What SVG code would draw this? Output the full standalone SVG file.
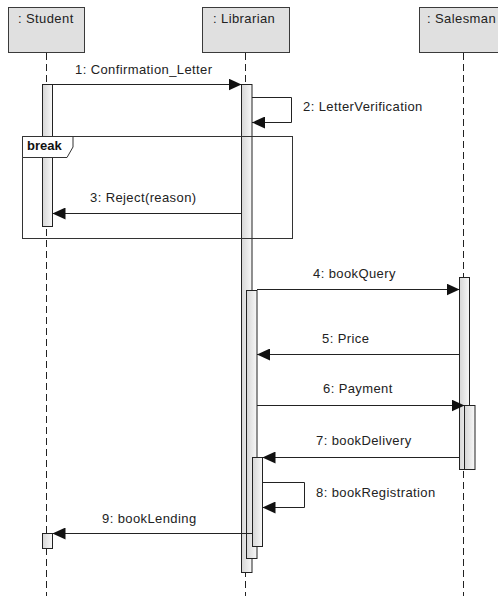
<svg xmlns="http://www.w3.org/2000/svg" width="498" height="596" viewBox="0 0 498 596">
  <style>
    .head { fill: #e0e0e0; stroke: #3a3a3a; stroke-width: 1; }
    .htxt { font-family: "Liberation Sans", Arial, sans-serif; font-size: 13px; letter-spacing: 0.4px; fill: #222; }
    .life { stroke: #222; stroke-width: 1; stroke-dasharray: 7 4; fill: none; }
    .bar { fill: url(#barFill); stroke: #222; stroke-width: 1; }
    .msg { stroke: #222; stroke-width: 1; fill: none; marker-end: url(#arrow); }
    .lbl { font-family: "Liberation Sans", Arial, sans-serif; font-size: 13px; letter-spacing: 0.4px; fill: #222; }
    .frame { fill: none; stroke: #333; stroke-width: 1; }
    .tab { fill: #fff; stroke: #333; stroke-width: 1; }
    .kw { font-family: "Liberation Sans", Arial, sans-serif; font-size: 13px; font-weight: bold; fill: #111; }
  </style>
  <defs>
    <linearGradient id="barFill" x1="0" y1="0" x2="1" y2="0">
      <stop offset="0" stop-color="#d6d6d6"/>
      <stop offset="1" stop-color="#f8f8f8"/>
    </linearGradient>
    <marker id="arrow" viewBox="0 0 13 12" refX="13" refY="6" markerWidth="13" markerHeight="12" markerUnits="userSpaceOnUse" orient="auto">
      <path d="M0,0 L13,6 L0,12 Z" fill="#111"/>
    </marker>
  </defs>
  <rect width="498" height="596" fill="#fff"/>

  <!-- lifelines -->
  <g id="lifelines">
    <line class="life" x1="46.5" y1="53" x2="46.5" y2="596"/>
    <line class="life" x1="245.5" y1="53" x2="245.5" y2="596"/>
    <line class="life" x1="463.5" y1="53" x2="463.5" y2="596"/>
  </g>

  <!-- lifeline heads -->
  <g id="student">
    <rect class="head" x="8.5" y="7.5" width="76" height="45"/>
    <text class="htxt" x="18" y="23">: Student</text>
  </g>
  <g id="librarian">
    <rect class="head" x="202.5" y="7.5" width="87" height="45"/>
    <text class="htxt" x="213" y="23">: Librarian</text>
  </g>
  <g id="salesman">
    <rect class="head" x="419.5" y="7.5" width="90" height="45"/>
    <text class="htxt" x="427" y="23">: Salesman</text>
  </g>

  <!-- activation bars -->
  <g id="activations">
    <rect class="bar" x="42.5" y="84.5" width="10" height="142"/>
    <rect class="bar" x="42.5" y="533.5" width="10" height="15"/>
    <rect class="bar" x="241.5" y="84.5" width="10.5" height="488"/>
    <rect class="bar" x="246.5" y="290.5" width="10.5" height="268"/>
    <rect class="bar" x="252.5" y="457.5" width="10" height="89"/>
    <rect class="bar" x="459.5" y="277.5" width="10" height="192"/>
    <rect class="bar" x="464.5" y="405.5" width="10.5" height="64"/>
  </g>

  <!-- break fragment, drawn over the bars -->
  <g id="break-fragment">
    <rect class="frame" x="22.5" y="136.5" width="270" height="102"/>
    <path class="tab" d="M22.5,136.5 H73 V147 L67,157.5 H22.5 Z"/>
    <text class="kw" x="27" y="150">break</text>
  </g>

  <!-- messages -->
  <g id="connectors">
    <line class="msg" x1="52.5" y1="84.5" x2="241.5" y2="84.5"/>
    <path class="msg" d="M252,97.5 H291.5 V122.5 H252"/>
    <line class="msg" x1="241.5" y1="213.5" x2="52.5" y2="213.5"/>
    <line class="msg" x1="257" y1="289.5" x2="459.5" y2="289.5"/>
    <line class="msg" x1="459.5" y1="354.5" x2="257" y2="354.5"/>
    <line class="msg" x1="257" y1="405.5" x2="464.5" y2="405.5"/>
    <line class="msg" x1="459.5" y1="457.5" x2="262.5" y2="457.5"/>
    <path class="msg" d="M262.5,482.5 H304.5 V507.5 H262.5"/>
    <line class="msg" x1="252.5" y1="533.5" x2="52.5" y2="533.5"/>
  </g>

  <!-- message labels -->
  <g id="labels">
    <text class="lbl" x="75" y="73.5">1: Confirmation_Letter</text>
    <text class="lbl" x="303" y="110.5">2: LetterVerification</text>
    <text class="lbl" x="90" y="201.5">3: Reject(reason)</text>
    <text class="lbl" x="313" y="278">4: bookQuery</text>
    <text class="lbl" x="322" y="343">5: Price</text>
    <text class="lbl" x="323" y="392.5">6: Payment</text>
    <text class="lbl" x="316" y="445">7: bookDelivery</text>
    <text class="lbl" x="316" y="496.5">8: bookRegistration</text>
    <text class="lbl" x="102" y="523">9: bookLending</text>
  </g>
</svg>
